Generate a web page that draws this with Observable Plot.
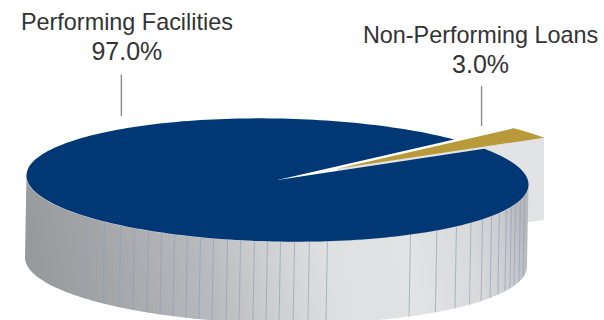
<!DOCTYPE html>
<html>
<head>
<meta charset="utf-8">
<style>
  html, body { margin: 0; padding: 0; background: #fff; overflow: hidden; }
</style>
<script src="https://cdn.jsdelivr.net/npm/d3@7"></script>
<script src="https://cdn.jsdelivr.net/npm/@observablehq/plot@0.6"></script>
</head>
<body>
<div id="chart"></div>
<script>
// Portfolio split by facility status, in percent.
const categories = ["Performing Facilities", "Non-Performing Loans"];
const shares = [97.0, 3.0];

// Drawing parameters for the tilted disc, in units of the disc's vertical radius.
const startDeg = 34.5;      // angle where the small slice begins
const tilt = 0.073;         // the disc is slightly sheared, lower on its right side
const depth = 1.333;        // wall height
const lean = 0.006;         // the wall's foot sits a touch to the left
const explode = 0.31;       // how far the small slice is pulled out

// Where the facet seams of the wall fall along the horizontal axis.
const seams = [
  -0.761, -0.689, -0.625, -0.570, -0.514, -0.462, -0.410, -0.359, -0.307, -0.255,
  -0.199, -0.147, -0.092, -0.040, 0.012, 0.068, 0.127, 0.199, 0.530, 0.635,
  0.713, 0.771, 0.817, 0.853, 0.884, 0.912, 0.932, 0.948, 0.968, 0.984
];

// Label anchors and leader lines, in the same disc units.
const labelX = [-0.6, 0.809];
const nameY = [2.443, 2.228];
const shareY = [1.955, 1.74];
const leaderX = [-0.622, 0.813];
const leaderTop = [1.707, 1.52];
const leaderBottom = [1.033, 0.87];

const rad = (d) => (d * Math.PI) / 180;
const discY = (cos, sin) => sin - tilt * cos;

// Point on the rim at a given angle, with an optional offset.
const rim = (deg, dx = 0, dy = 0) => ({
  x: Math.cos(rad(deg)) + dx,
  y: discY(Math.cos(rad(deg)), Math.sin(rad(deg))) + dy
});

// Closed outline of a pie slice: centre, then the arc.
const sliceOutline = (from, sweep, dx = 0, dy = 0) => [
  {x: dx, y: dy},
  ...d3.range(0, 241).map((i) => rim(from + (sweep * i) / 240, dx, dy))
];

const goldSweep = shares[1] * 3.6;
const navySweep = shares[0] * 3.6;
const midDeg = startDeg + goldSweep / 2;
const offX = explode * Math.cos(rad(midDeg));
const offY = explode * discY(Math.cos(rad(midDeg)), Math.sin(rad(midDeg)));

const navySlice = sliceOutline(startDeg + goldSweep, navySweep);
const goldSlice = sliceOutline(startDeg, goldSweep, offX, offY);

// Cut face below the pulled-out slice.
const goldTip = rim(startDeg, offX, offY);
const goldFace = [
  {x: offX, y: offY},
  goldTip,
  {x: goldTip.x, y: goldTip.y - depth},
  {x: offX, y: offY - depth}
];

// Wall of the disc: the front half of the rim and its copy lowered by the depth.
const frontRim = d3.range(0, 361).map((i) => rim(180 + i / 2));
const wall = [
  ...frontRim,
  ...frontRim.slice().reverse().map((p) => ({x: p.x - lean, y: p.y - depth}))
];

const seamLines = seams.map((x) => {
  const top = discY(x, -Math.sqrt(1 - x * x));
  return {x1: x, y1: top, x2: x - lean, y2: top - depth};
});

const nameLabels = categories.map((c, i) => ({text: c, x: labelX[i], y: nameY[i]}));
const shareLabels = shares.map((s, i) => ({text: `${s.toFixed(1)}%`, x: labelX[i], y: shareY[i]}));
const leaders = leaderX.map((x, i) => ({x, y1: leaderBottom[i], y2: leaderTop[i]}));

// Shading of the wall from the dark left side, through the bright front, to the right edge.
const wallStops = [
  [0, "#97989b"], [0.15, "#a4a5a8"], [0.35, "#b9babd"], [0.48, "#cfd0d2"],
  [0.6, "#dfe0e2"], [0.76, "#e2e3e5"], [0.88, "#d9dadc"], [0.95, "#cbcdd0"], [1, "#b6b8bc"]
];

const wallGradient = () => {
  const defs = d3.create("svg:defs");
  const grad = defs.append("linearGradient")
    .attr("id", "wall-shade")
    .attr("x1", 0).attr("y1", 0.53)
    .attr("x2", 1).attr("y2", 0.47);
  wallStops.forEach(([o, c]) => grad.append("stop").attr("offset", o).attr("stop-color", c));
  return defs.node();
};

const labelStyle = {
  x: "x", y: "y", text: "text",
  lineAnchor: "bottom",
  fontFamily: "Liberation Sans", fill: "#333"
};

const chart = Plot.plot({
  width: 604,
  height: 320,
  margin: 0,
  style: {background: "#fff"},
  x: {domain: [-1, 1], range: [26, 528], axis: null},
  y: {domain: [-1, 1], range: [241, 118], axis: null},
  marks: [
    wallGradient,
    Plot.line(goldFace, {x: "x", y: "y", fill: "#e2e3e5", stroke: "none"}),
    Plot.line(wall, {x: "x", y: "y", fill: "url(#wall-shade)", stroke: "none"}),
    Plot.link(seamLines, {
      x1: "x1", y1: "y1", x2: "x2", y2: "y2",
      stroke: "#8ea0b8", strokeWidth: 0.8, strokeOpacity: 0.85
    }),
    Plot.line(frontRim, {x: "x", y: "y", stroke: "#c9ccd1", strokeWidth: 1.1}),
    Plot.line(navySlice, {x: "x", y: "y", fill: "#003876", stroke: "none"}),
    Plot.line(goldSlice, {x: "x", y: "y", fill: "#b89a3a", stroke: "none"}),
    Plot.ruleX(leaders, {x: "x", y1: "y1", y2: "y2", stroke: "#8a8a8a", strokeWidth: 1.4}),
    Plot.text(nameLabels, {...labelStyle, fontSize: 23.4}),
    Plot.text(shareLabels, {...labelStyle, fontSize: 25})
  ]
});

document.getElementById("chart").append(chart);
</script>
</body>
</html>
